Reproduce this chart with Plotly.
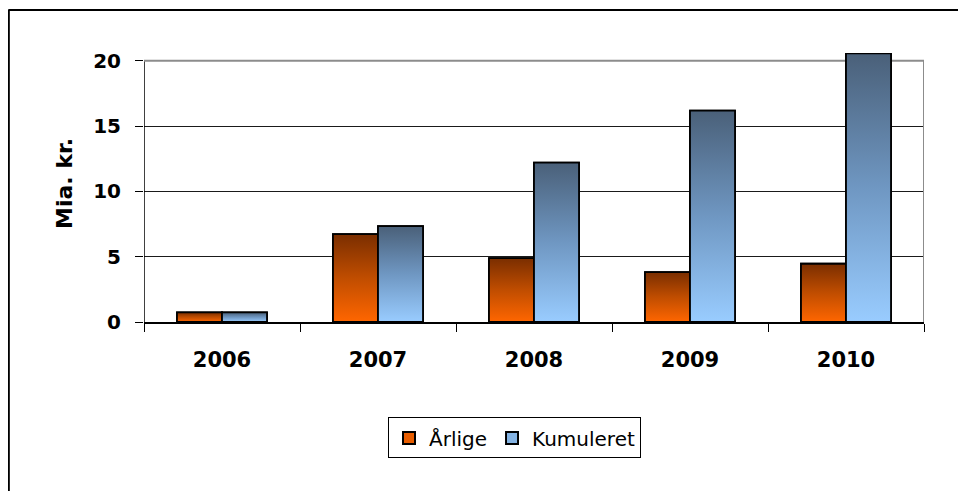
import plotly.graph_objects as go

years = ["2006", "2007", "2008", "2009", "2010"]
aarlige = [0.73, 6.73, 4.89, 3.82, 4.46]
kumuleret = [0.73, 7.34, 12.2, 16.18, 20.57]
series_names = ["Årlige", "Kumuleret"]
y_ticks = [0, 5, 10, 15, 20]

# styles
BARGAP = 0.423
grad_orange = [[0, "#ff6600"], [0.5, "#c04d00"], [1, "#7a2e00"]]
grad_blue = [[0, "#99ccff"], [0.5, "#6f97c2"], [1, "#4a6079"]]
legend_colors = ["#e85d00", "#84b3e3"]
FONT = "DejaVu Sans"

fig = go.Figure()
xs = list(range(len(years)))
for s, (name, vals) in enumerate(zip(series_names, [aarlige, kumuleret])):
    fig.add_trace(go.Bar(
        x=xs, y=vals, name=name,
        marker=dict(color=legend_colors[s], line=dict(color="black", width=1.8)),
    ))

w = (1 - BARGAP) / 2
for s, (vals, grad) in enumerate(zip([aarlige, kumuleret], [grad_orange, grad_blue])):
    for i, v in enumerate(vals):
        x0 = i - (1 - BARGAP) / 2 + s * w
        x1 = x0 + w
        fig.add_trace(go.Scatter(
            x=[x0, x0, x1, x1, x0], y=[0, v, v, 0, 0],
            mode="lines", fill="toself",
            fillgradient=dict(type="vertical", colorscale=grad, start=0, stop=v),
            line=dict(color="black", width=1.8),
            showlegend=False, hoverinfo="skip",
        ))

# page has an 8px body margin, so the figure is 958x483 placed at (8,8)
fig.update_layout(
    width=958, height=483,
    margin=dict(l=136, r=42, t=45, b=169),
    paper_bgcolor="white", plot_bgcolor="white",
    barmode="group", bargap=BARGAP, bargroupgap=0,
    showlegend=True,
    legend=dict(
        orientation="h", x=0.475, y=-0.431, xanchor="center", yanchor="middle",
        font=dict(family=FONT, size=20, color="black"),
        bordercolor="black", borderwidth=1, bgcolor="white",
        itemsizing="constant", tracegroupgap=0,
    ),
    font=dict(family=FONT, color="black"),
)
fig.update_xaxes(
    range=[-0.5, len(years) - 0.5],
    tickmode="array", tickvals=xs, ticktext=years, ticks="",
    tickfont=dict(family=FONT, size=21, color="black", weight="bold"),
    ticklabelstandoff=18,
    showgrid=False, zeroline=False,
    showline=True, linecolor="black", linewidth=1.5,
    minor=dict(tickmode="array", tickvals=[i - 0.5 for i in range(len(years) + 1)],
               ticks="outside", ticklen=8, tickcolor="black", tickwidth=1, showgrid=False),
)
fig.update_yaxes(
    range=[0, 20.6],
    tickmode="array", tickvals=y_ticks,
    ticks="outside", ticklen=8, tickcolor="black", tickwidth=1,
    tickfont=dict(family=FONT, size=20, color="black", weight="bold"),
    ticklabelstandoff=10,
    showgrid=True, gridcolor="#1a1a1a", gridwidth=1,
    zeroline=False, showline=False,
)

# plot frame: black left axis, grey top and right edges
fig.add_shape(type="line", xref="x", yref="y", x0=-0.5, x1=-0.5, y0=0, y1=20,
              line=dict(color="black", width=1.5), layer="between")
fig.add_shape(type="line", xref="x", yref="y", x0=-0.5, x1=len(years) - 0.5, y0=20, y1=20,
              line=dict(color="#8c8c8c", width=2), layer="between")
fig.add_shape(type="line", xref="x", yref="y", x0=len(years) - 0.5, x1=len(years) - 0.5, y0=0, y1=20,
              line=dict(color="#8c8c8c", width=2), layer="between")

# outer chart frame (top and left edges)
fig.add_shape(type="line", xref="paper", yref="paper", x0=-0.174, x1=1.1, y0=1.16, y1=1.16,
              line=dict(color="black", width=2))
fig.add_shape(type="line", xref="paper", yref="paper", x0=-0.1733, x1=-0.1733, y0=-0.7, y1=1.16,
              line=dict(color="black", width=2))

fig.add_annotation(
    text="Mia. kr.", xref="paper", yref="paper", x=-0.1013, y=0.517,
    textangle=-90, showarrow=False, xanchor="center", yanchor="middle",
    font=dict(family=FONT, size=22, color="black", weight="bold"),
)

fig.write_html("out.html")
